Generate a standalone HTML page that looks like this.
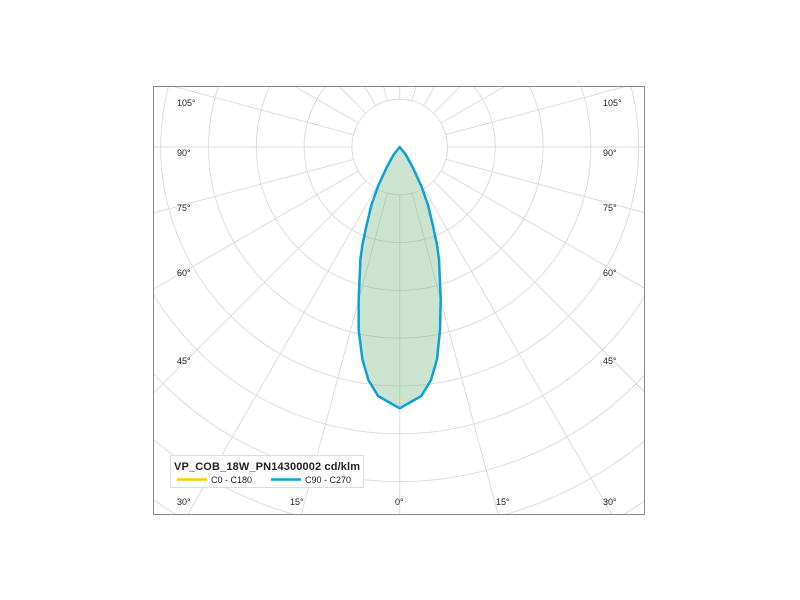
<!DOCTYPE html>
<html><head><meta charset="utf-8"><style>
html,body{margin:0;background:#fff;width:800px;height:600px;overflow:hidden;}
svg{display:block;font-family:"Liberation Sans",sans-serif;}
</style></head><body>
<svg width="800" height="600" viewBox="0 0 800 600">
<defs><clipPath id="c"><rect x="153" y="86" width="492" height="429"/></clipPath></defs>
<g clip-path="url(#c)" stroke="#dcdcdc" stroke-width="1" fill="none">
<circle cx="399.7" cy="147" r="47.8"/>
<circle cx="399.7" cy="147" r="95.6"/>
<circle cx="399.7" cy="147" r="143.4"/>
<circle cx="399.7" cy="147" r="191.2"/>
<circle cx="399.7" cy="147" r="239"/>
<circle cx="399.7" cy="147" r="286.8"/>
<circle cx="399.7" cy="147" r="334.6"/>
<circle cx="399.7" cy="147" r="382.4"/>
<circle cx="399.7" cy="147" r="430.2"/>
<g>
<line x1="399.7" y1="194.8" x2="399.7" y2="592"/>
<line x1="399.7" y1="194.8" x2="399.7" y2="592" transform="rotate(15 399.7 147)"/>
<line x1="399.7" y1="194.8" x2="399.7" y2="592" transform="rotate(30 399.7 147)"/>
<line x1="399.7" y1="194.8" x2="399.7" y2="592" transform="rotate(45 399.7 147)"/>
<line x1="399.7" y1="194.8" x2="399.7" y2="592" transform="rotate(60 399.7 147)"/>
<line x1="399.7" y1="194.8" x2="399.7" y2="592" transform="rotate(75 399.7 147)"/>
<line x1="399.7" y1="194.8" x2="399.7" y2="592" transform="rotate(90 399.7 147)"/>
<line x1="399.7" y1="194.8" x2="399.7" y2="592" transform="rotate(105 399.7 147)"/>
<line x1="399.7" y1="194.8" x2="399.7" y2="592" transform="rotate(120 399.7 147)"/>
<line x1="399.7" y1="194.8" x2="399.7" y2="592" transform="rotate(135 399.7 147)"/>
<line x1="399.7" y1="194.8" x2="399.7" y2="592" transform="rotate(150 399.7 147)"/>
<line x1="399.7" y1="194.8" x2="399.7" y2="592" transform="rotate(165 399.7 147)"/>
<line x1="399.7" y1="194.8" x2="399.7" y2="592" transform="rotate(180 399.7 147)"/>
<line x1="399.7" y1="194.8" x2="399.7" y2="592" transform="rotate(195 399.7 147)"/>
<line x1="399.7" y1="194.8" x2="399.7" y2="592" transform="rotate(210 399.7 147)"/>
<line x1="399.7" y1="194.8" x2="399.7" y2="592" transform="rotate(225 399.7 147)"/>
<line x1="399.7" y1="194.8" x2="399.7" y2="592" transform="rotate(240 399.7 147)"/>
<line x1="399.7" y1="194.8" x2="399.7" y2="592" transform="rotate(255 399.7 147)"/>
<line x1="399.7" y1="194.8" x2="399.7" y2="592" transform="rotate(270 399.7 147)"/>
<line x1="399.7" y1="194.8" x2="399.7" y2="592" transform="rotate(285 399.7 147)"/>
<line x1="399.7" y1="194.8" x2="399.7" y2="592" transform="rotate(300 399.7 147)"/>
<line x1="399.7" y1="194.8" x2="399.7" y2="592" transform="rotate(315 399.7 147)"/>
<line x1="399.7" y1="194.8" x2="399.7" y2="592" transform="rotate(330 399.7 147)"/>
<line x1="399.7" y1="194.8" x2="399.7" y2="592" transform="rotate(345 399.7 147)"/>
</g>
</g>
<path d="M399.7,147 L406,155 L413,168 L421.3,186 L428,205 L433,226 L437,245 L439,259.3 L440.7,299.3 L440,330 L437,359.3 L431,380 L421.3,396 L399.7,408.3 L378.1,396 L368.4,380 L362.4,359.3 L358.7,330 L358.7,299.3 L360.4,259.3 L362.4,245 L366.4,226 L371.4,205 L378.1,186 L386.4,168 L393.4,155 Z" fill="rgba(120,185,130,0.38)" stroke="#0aa0d8" stroke-width="2.5" stroke-linejoin="round"/>
<rect x="153.5" y="86.5" width="491" height="428" fill="none" stroke="#888" stroke-width="1"/>
<g font-size="9" fill="#222">
<text x="177" y="106">105°</text><text x="177" y="156">90°</text><text x="177" y="211">75°</text><text x="177" y="276">60°</text><text x="177" y="364">45°</text>
<text x="603" y="106">105°</text><text x="603" y="156">90°</text><text x="603" y="211">75°</text><text x="603" y="276">60°</text><text x="603" y="364">45°</text>
<text x="177" y="505">30°</text><text x="290" y="505">15°</text><text x="395" y="505">0°</text><text x="496" y="505">15°</text><text x="603" y="505">30°</text>
</g>
<rect x="170.5" y="455.5" width="193" height="32" fill="#fff" stroke="#ddd"/>
<text x="174" y="470" font-size="11" font-weight="bold" fill="#222" textLength="186">VP_COB_18W_PN14300002  cd/klm</text>
<line x1="177" y1="479.5" x2="207" y2="479.5" stroke="#ffc800" stroke-width="2.5"/>
<text x="211" y="483" font-size="9" fill="#222">C0 - C180</text>
<line x1="271" y1="479.5" x2="301" y2="479.5" stroke="#0aa0d8" stroke-width="2.5"/>
<text x="305" y="483" font-size="9" fill="#222">C90 - C270</text>
</svg>
</body></html>
